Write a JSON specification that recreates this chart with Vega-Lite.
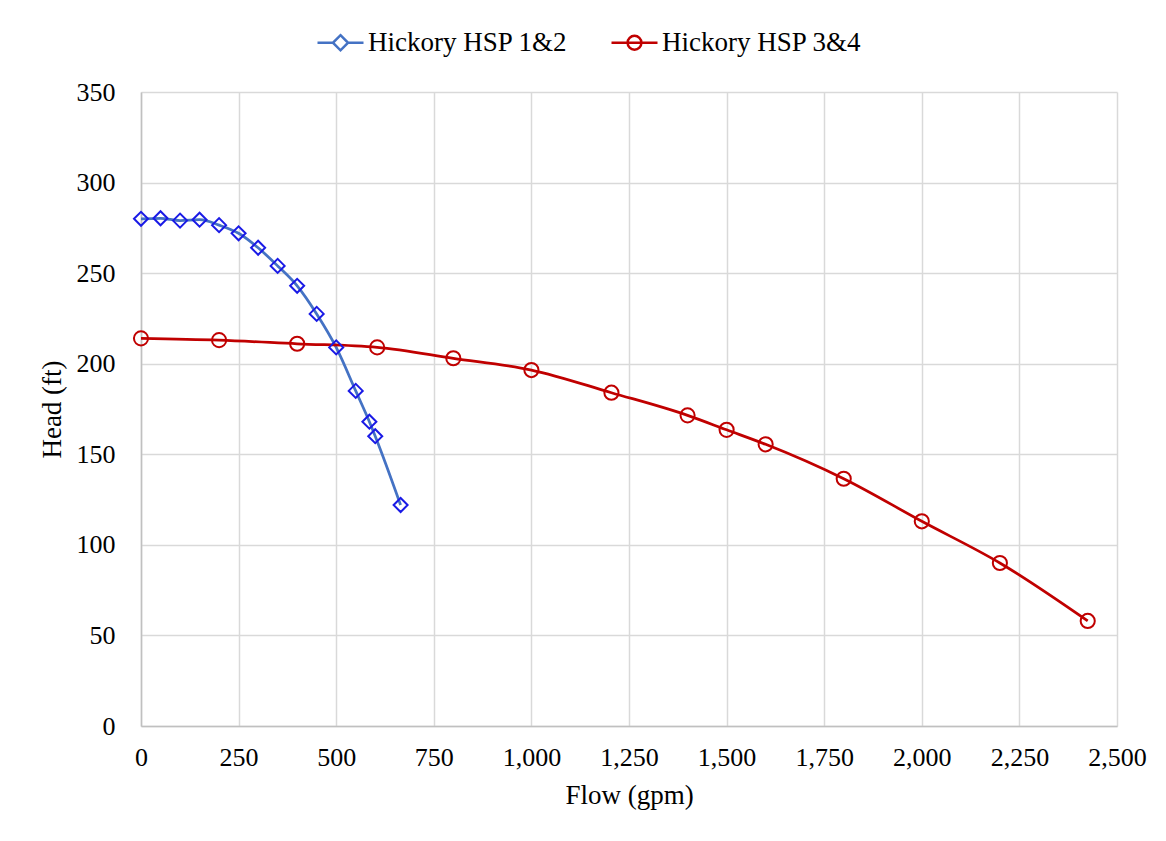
{
  "$schema": "https://vega.github.io/schema/vega-lite/v6.json",
  "width": 976,
  "height": 634,
  "autosize": {"type": "none"},
  "padding": {"left": 141, "top": 92, "right": 49, "bottom": 115},
  "background": "white",
  "config": {
    "view": {"stroke": null},
    "font": "Liberation Serif",
    "axis": {
      "labelFont": "Liberation Serif",
      "titleFont": "Liberation Serif",
      "labelFontSize": 26,
      "titleFontSize": 27,
      "titleFontWeight": "normal",
      "labelColor": "#000000",
      "titleColor": "#000000",
      "gridColor": "#D9D9D9",
      "gridWidth": 1.5,
      "domainColor": "#C0C0C0",
      "domainWidth": 1.5,
      "ticks": false,
      "tickSize": 0,
      "labelFlush": false,
      "labelOverlap": false
    }
  },
  "data": {
    "values": [
      {"series": "Hickory HSP 1&2", "flow": 0, "head": 280},
      {"series": "Hickory HSP 1&2", "flow": 50, "head": 280.3},
      {"series": "Hickory HSP 1&2", "flow": 100, "head": 279},
      {"series": "Hickory HSP 1&2", "flow": 150, "head": 279.5},
      {"series": "Hickory HSP 1&2", "flow": 200, "head": 276.5},
      {"series": "Hickory HSP 1&2", "flow": 250, "head": 272},
      {"series": "Hickory HSP 1&2", "flow": 300, "head": 264},
      {"series": "Hickory HSP 1&2", "flow": 350, "head": 254},
      {"series": "Hickory HSP 1&2", "flow": 400, "head": 243},
      {"series": "Hickory HSP 1&2", "flow": 450, "head": 227.5},
      {"series": "Hickory HSP 1&2", "flow": 500, "head": 209},
      {"series": "Hickory HSP 1&2", "flow": 550, "head": 185},
      {"series": "Hickory HSP 1&2", "flow": 585, "head": 168},
      {"series": "Hickory HSP 1&2", "flow": 600, "head": 160},
      {"series": "Hickory HSP 1&2", "flow": 665, "head": 122},
      {"series": "Hickory HSP 3&4", "flow": 0, "head": 214},
      {"series": "Hickory HSP 3&4", "flow": 200, "head": 213},
      {"series": "Hickory HSP 3&4", "flow": 400, "head": 211},
      {"series": "Hickory HSP 3&4", "flow": 605, "head": 209},
      {"series": "Hickory HSP 3&4", "flow": 800, "head": 203},
      {"series": "Hickory HSP 3&4", "flow": 1000, "head": 196.5},
      {"series": "Hickory HSP 3&4", "flow": 1205, "head": 184},
      {"series": "Hickory HSP 3&4", "flow": 1400, "head": 171.5},
      {"series": "Hickory HSP 3&4", "flow": 1500, "head": 163.5},
      {"series": "Hickory HSP 3&4", "flow": 1600, "head": 155.5},
      {"series": "Hickory HSP 3&4", "flow": 1800, "head": 136.5},
      {"series": "Hickory HSP 3&4", "flow": 2000, "head": 113},
      {"series": "Hickory HSP 3&4", "flow": 2200, "head": 90},
      {"series": "Hickory HSP 3&4", "flow": 2425, "head": 58}
    ]
  },
  "encoding": {
    "x": {
      "field": "flow",
      "type": "quantitative",
      "scale": {"domain": [0, 2500], "nice": false},
      "axis": {
        "title": "Flow (gpm)",
        "values": [0, 250, 500, 750, 1000, 1250, 1500, 1750, 2000, 2250, 2500],
        "format": ",d",
        "labelPadding": 18,
        "titlePadding": 12,
        "grid": true
      }
    },
    "y": {
      "field": "head",
      "type": "quantitative",
      "scale": {"domain": [0, 350], "nice": false},
      "axis": {
        "title": "Head (ft)",
        "values": [0, 50, 100, 150, 200, 250, 300, 350],
        "labelPadding": 26,
        "titlePadding": 10,
        "grid": true
      }
    }
  },
  "layer": [
    {
      "mark": {"type": "line", "interpolate": "monotone", "strokeWidth": 2.75},
      "encoding": {
        "color": {
          "field": "series",
          "type": "nominal",
          "scale": {"domain": ["Hickory HSP 1&2", "Hickory HSP 3&4"], "range": ["#4472C4", "#C00000"]},
          "legend": {
            "title": null,
            "orient": "none",
            "legendX": 175,
            "legendY": -74,
            "direction": "horizontal",
            "labelFont": "Liberation Serif",
            "labelFontSize": 27,
            "labelColor": "#000000",
            "labelLimit": 400,
            "labelOffset": 3,
            "columnPadding": 38,
            "symbolSize": 2116,
            "symbolStrokeWidth": 2.5,
            "encoding": {
              "symbols": {
                "shape": {
                  "condition": {"test": "datum.value === 'Hickory HSP 1&2'", "value": "M-1,0H-0.33M0.33,0H1M0,-0.33L0.33,0L0,0.33L-0.33,0Z"},
                  "value": "M-1,0H1M-0.3,0A0.3,0.3 0 1,0 0.3,0A0.3,0.3 0 1,0 -0.3,0Z"
                }
              }
            }
          }
        }
      }
    },
    {
      "transform": [{"filter": "datum.series === 'Hickory HSP 1&2'"}],
      "mark": {"type": "point", "shape": "diamond", "size": 196, "filled": false, "stroke": "#1A1AE6", "strokeWidth": 2, "opacity": 1}
    },
    {
      "transform": [{"filter": "datum.series === 'Hickory HSP 3&4'"}],
      "mark": {"type": "point", "shape": "circle", "size": 200, "filled": false, "stroke": "#C00000", "strokeWidth": 2, "opacity": 1}
    }
  ]
}
